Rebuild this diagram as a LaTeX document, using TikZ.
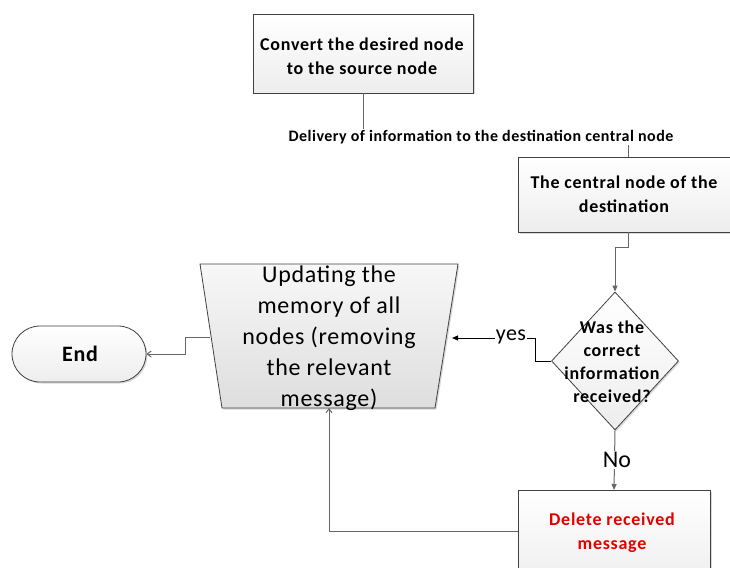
\documentclass[tikz,border=0pt]{standalone}
\usepackage{fontspec}
\setmainfont{Carlito}
\usetikzlibrary{shapes.geometric,shapes.misc,arrows.meta,shadows}
\begin{document}
\begin{tikzpicture}[x=1pt,y=-1pt,
  box/.style={draw=black!75,line width=0.8pt,top color=white,bottom color=black!7,
    drop shadow={shadow xshift=1.5pt,shadow yshift=-1.5pt,opacity=0.3},
    align=center,inner sep=2pt},
  bt/.style={align=center,font=\bfseries\fontsize{18}{24}\selectfont\addfontfeatures{LetterSpace=4}},
  conn/.style={draw=black!60,line width=1pt},
  solidarr/.style={-{Triangle[length=6pt,width=5pt]}},
  openarr/.style={-{Straight Barb[length=4pt,width=6pt]}},
  lbl/.style={fill=white,inner sep=1pt}]
\useasboundingbox (0,0) rectangle (730,567);
\clip (0,0) rectangle (730,567);
% nodes
\node[box,minimum width=220pt,minimum height=79pt] (conv) at (363,53.5) {};
\node[bt] (convtxt) at (362,56) {Convert the desired node\\to the source node};
\node[box,minimum width=212pt,minimum height=75pt] (cent) at (624,194.5) {};
\node[bt] (centtxt) at (624,194) {The central node of the\\destination};
\node[box,diamond,aspect=0.92,minimum width=127pt,minimum height=138pt] (dec) at (615,361) {\strut};
\node[bt,font=\bfseries\fontsize{18}{23}\selectfont\addfontfeatures{LetterSpace=4}] (dectxt) at (612,362)
  {Was the\\correct\\information\\received?};
% trapezoid (drawn as a path)
\coordinate (utl) at (200,264);
\coordinate (utr) at (458,264);
\coordinate (ubr) at (435,408);
\coordinate (ubl) at (222,408);
\coordinate (uin) at (452,338);
\coordinate (uout) at (210,337);
\coordinate (ubot) at (329,408);
\path[box,top color=black!3,bottom color=black!13] (utl) -- (utr) -- (ubr) -- (ubl) -- cycle;
\node[align=center,font=\fontsize{24}{31}\selectfont\addfontfeatures{LetterSpace=3}] (upd) at (329,338)
  {Updating the\\memory of all\\nodes (removing\\the relevant\\message)};
\node[box,rounded rectangle,minimum width=138pt,minimum height=56pt] (end) at (79,354) {\strut};
\node[font=\bfseries\fontsize{22}{24}\selectfont\addfontfeatures{LetterSpace=3}] (endtxt) at (80,354) {End};
\node[box,minimum width=192pt,minimum height=100pt,anchor=north] (del) at (614,490) {};
\node[bt,text=red!90!black] (deltxt) at (612,533) {Delete received\\message};
% connectors
\coordinate (c1) at (363,137);
\coordinate (c2) at (628,137);
\draw[conn] (conv.south) -- (c1) -- (c2) -- (cent.north -| c2);
\node[lbl,font=\bfseries\fontsize{16}{18}\selectfont\addfontfeatures{LetterSpace=3}] (dlv) at (481,137)
  {Delivery of information to the destination central node};
\coordinate (c3) at (628,247);
\coordinate (c4) at (615,247);
\draw[conn,solidarr] (cent.south -| c3) -- (c3) -- (c4) -- (dec.north);
\coordinate (y1) at (535,361);
\coordinate (y2) at (535,338);
\draw[conn,draw=black,solidarr] (dec.west) -- (y1) -- (y2) -- (uin);
\node[lbl,font=\fontsize{22}{24}\selectfont\addfontfeatures{LetterSpace=2}] (yes) at (511,337) {yes};
\coordinate (e1) at (185,337);
\coordinate (e2) at (185,354);
\draw[conn,openarr] (uout) -- (e1) -- (e2) -- (end.east);
\draw[conn,solidarr] (dec.south) -- (del.north);
\node[lbl,font=\fontsize{24}{26}\selectfont] (no) at (617,460) {No};
\coordinate (d1) at (329,531);
\draw[conn,openarr] (del.west |- d1) -- (d1) -- (ubot);
\end{tikzpicture}
\end{document}
